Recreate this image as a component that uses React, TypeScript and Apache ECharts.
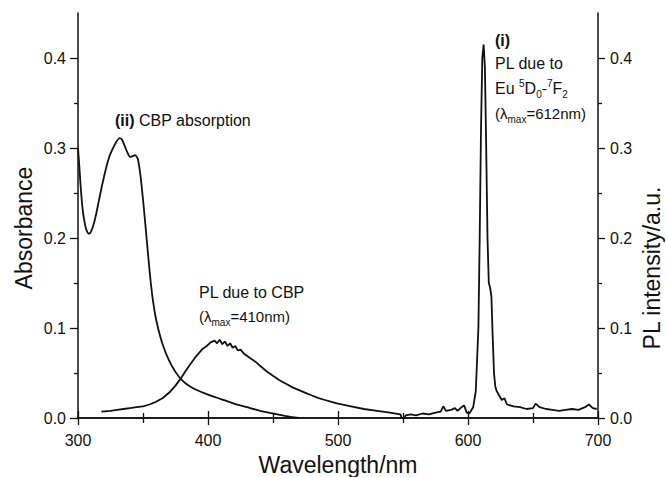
import React, { useEffect, useRef } from "react";
import * as echarts from "echarts";

// Absorption spectrum of CBP (left axis)
const absWavelength = [300, 301, 302, 303, 304, 305, 306, 307, 308, 309, 310, 312, 314, 316, 318, 320, 322, 324, 326, 328, 330, 332, 334, 336, 338, 340, 342, 344, 346, 348, 350, 352, 354, 356, 358, 360, 363, 366, 370, 375, 380, 385, 390, 400, 410, 420, 430, 440, 450, 460, 470];
const absValue = [0.3, 0.28, 0.258, 0.24, 0.227, 0.218, 0.211, 0.207, 0.205, 0.205, 0.207, 0.215, 0.227, 0.241, 0.255, 0.268, 0.28, 0.29, 0.297, 0.303, 0.308, 0.311, 0.309, 0.302, 0.295, 0.29, 0.291, 0.292, 0.288, 0.27, 0.243, 0.212, 0.18, 0.15, 0.127, 0.11, 0.092, 0.078, 0.064, 0.051, 0.042, 0.036, 0.032, 0.026, 0.021, 0.016, 0.012, 0.008, 0.005, 0.002, 0.0];

// PL spectrum (right axis)
const plWavelength = [318, 325, 330, 335, 340, 345, 350, 355, 360, 365, 370, 375, 380, 385, 390, 393, 396, 399, 402, 405, 407, 409, 411, 413, 415, 417, 419, 421, 423, 425, 428, 431, 434, 437, 440, 445, 450, 455, 460, 465, 470, 475, 480, 485, 490, 495, 500, 510, 520, 530, 540, 548, 550, 552, 556, 560, 565, 570, 575, 579, 581, 583, 587, 590, 592, 595, 597, 599, 601, 604, 606, 608, 609, 610, 611, 612, 613, 614, 615, 616, 617, 618, 619, 620, 621, 622, 624, 626, 628, 630, 635, 640, 645, 650, 652, 655, 660, 665, 670, 675, 680, 685, 690, 693, 696, 699];
const plValue = [0.007, 0.008, 0.009, 0.01, 0.011, 0.012, 0.013, 0.015, 0.018, 0.022, 0.028, 0.036, 0.046, 0.057, 0.067, 0.072, 0.077, 0.08, 0.084, 0.086, 0.083, 0.087, 0.082, 0.085, 0.08, 0.083, 0.078, 0.08, 0.075, 0.076, 0.071, 0.068, 0.065, 0.062, 0.058, 0.052, 0.047, 0.042, 0.038, 0.034, 0.031, 0.028, 0.025, 0.022, 0.02, 0.018, 0.016, 0.013, 0.01, 0.008, 0.006, 0.004, -0.004, 0.003, 0.004, 0.003, 0.005, 0.004, 0.006, 0.007, 0.013, 0.008, 0.009, 0.011, 0.008, 0.012, 0.014, 0.006, 0.005, 0.012, 0.03, 0.1, 0.2, 0.32, 0.4, 0.415, 0.39, 0.3, 0.2, 0.15, 0.145, 0.135, 0.09, 0.05, 0.035, 0.03, 0.025, 0.02, 0.022, 0.015, 0.013, 0.012, 0.01, 0.011, 0.016, 0.012, 0.01, 0.009, 0.008, 0.009, 0.01, 0.009, 0.012, 0.015, 0.011, 0.01];

const xMin = 300;
const xMax = 700;
const yMax = 0.45;
const yMajorTicks = [0, 0.1, 0.2, 0.3, 0.4];
const yMinorTicks = [0.05, 0.15, 0.25, 0.35];

export default function App() {
  const ref = useRef<HTMLDivElement>(null);

  useEffect(() => {
    if (!ref.current) return;
    const chart = echarts.init(ref.current, null, { renderer: "svg" });
    const font = "'Liberation Sans', Arial, Helvetica, sans-serif";
    const ink = "#111";
    const axisLine = { show: true, lineStyle: { color: ink, width: 1.5 } };

    const xBase = {
      type: "value" as const,
      min: xMin,
      max: xMax,
      interval: 100,
      axisLine,
      splitLine: { show: false },
      axisTick: { inside: true, length: 7, lineStyle: { color: ink, width: 1.3 } },
      minorTick: { show: true, splitNumber: 2, length: 5, lineStyle: { color: ink, width: 1.3 } },
    };

    const yBase = {
      type: "value" as const,
      min: 0,
      max: yMax,
      splitLine: { show: false },
    };

    const richText = {
      b: { fontWeight: "bold" as const, fontSize: 16, fontFamily: font, fill: ink, lineHeight: 22 },
      n: { fontSize: 16, fontFamily: font, fill: ink, lineHeight: 22 },
      s: { fontSize: 15, fontFamily: font, fill: ink, lineHeight: 22 },
      sub: { fontSize: 10, fontFamily: font, fill: ink, lineHeight: 10, padding: [12, 0, 0, 0] },
      sup: { fontSize: 10, fontFamily: font, fill: ink, lineHeight: 10, padding: [0, 0, 10, 0] },
    };

    const annot = (x: number, y: number, text: string) => ({
      type: "text",
      x,
      y,
      style: {
        text,
        rich: richText,
        font: `16px ${font}`,
        fill: ink,
        textAlign: "left",
        textVerticalAlign: "middle",
      },
    });

    const option = {
      animation: false,
      backgroundColor: "#fff",
      grid: { left: 78, right: 68, top: 13, bottom: 59, containLabel: false },
      xAxis: [
        {
          ...xBase,
          position: "bottom",
          axisLabel: { margin: 14, fontSize: 16, color: ink, fontFamily: font },
        },
        {
          ...xBase,
          position: "top",
          axisLabel: { show: false },
        },
      ],
      yAxis: [
        {
          ...yBase,
          position: "left",
          axisLine,
          axisTick: { customValues: yMajorTicks, length: 8, lineStyle: { color: ink, width: 1.3 } },
          axisLabel: {
            customValues: yMajorTicks,
            formatter: (v: number) => v.toFixed(1),
            margin: 12,
            fontSize: 16,
            color: ink,
            fontFamily: font,
          },
        },
        {
          ...yBase,
          position: "right",
          axisLine,
          axisTick: { customValues: yMajorTicks, length: 7, lineStyle: { color: ink, width: 1.3 } },
          axisLabel: {
            customValues: yMajorTicks,
            formatter: (v: number) => v.toFixed(1),
            margin: 12,
            fontSize: 16,
            color: ink,
            fontFamily: font,
          },
        },
        {
          ...yBase,
          position: "left",
          axisLine: { show: false },
          axisTick: { customValues: yMinorTicks, length: 4, lineStyle: { color: ink, width: 1.3 } },
          axisLabel: { show: false },
        },
        {
          ...yBase,
          position: "right",
          axisLine: { show: false },
          axisTick: { customValues: yMinorTicks, length: 4, lineStyle: { color: ink, width: 1.3 } },
          axisLabel: { show: false },
        },
      ],
      series: [
        {
          name: "CBP absorption",
          type: "line",
          xAxisIndex: 0,
          yAxisIndex: 0,
          data: absWavelength.map((w, i) => [w, absValue[i]]),
          showSymbol: false,
          smooth: 0.2,
          lineStyle: { color: ink, width: 1.8 },
        },
        {
          name: "PL",
          type: "line",
          xAxisIndex: 0,
          yAxisIndex: 1,
          data: plWavelength.map((w, i) => [w, plValue[i]]),
          showSymbol: false,
          lineStyle: { color: ink, width: 1.8 },
        },
      ],
      graphic: [
        {
          type: "text",
          x: 24,
          y: 228,
          rotation: Math.PI / 2,
          style: { text: "Absorbance", font: `23px ${font}`, fill: ink, textAlign: "center", textVerticalAlign: "middle" },
        },
        {
          type: "text",
          x: 652,
          y: 268,
          rotation: Math.PI / 2,
          style: { text: "PL intensity/a.u.", font: `23px ${font}`, fill: ink, textAlign: "center", textVerticalAlign: "middle" },
        },
        {
          type: "text",
          x: 338,
          y: 465,
          style: { text: "Wavelength/nm", font: `23px ${font}`, fill: ink, textAlign: "center", textVerticalAlign: "middle" },
        },
        annot(115, 120, "{b|(ii)}{n| CBP absorption}"),
        annot(199, 292, "{n|PL due to CBP}"),
        annot(199, 316, "{s|(λ}{sub|max}{s|=410nm)}"),
        annot(495, 40, "{b|(i)}"),
        annot(495, 63, "{n|PL due to}"),
        annot(495, 88, "{n|Eu }{sup|5}{n|D}{sub|0}{n|-}{sup|7}{n|F}{sub|2}"),
        annot(495, 113, "{s|(λ}{sub|max}{s|=612nm)}"),
      ],
    };

    chart.setOption(option as any);
    return () => chart.dispose();
  }, []);

  return <div ref={ref} style={{ position: "absolute", left: 0, top: 0, width: 666, height: 477 }} />;
}
